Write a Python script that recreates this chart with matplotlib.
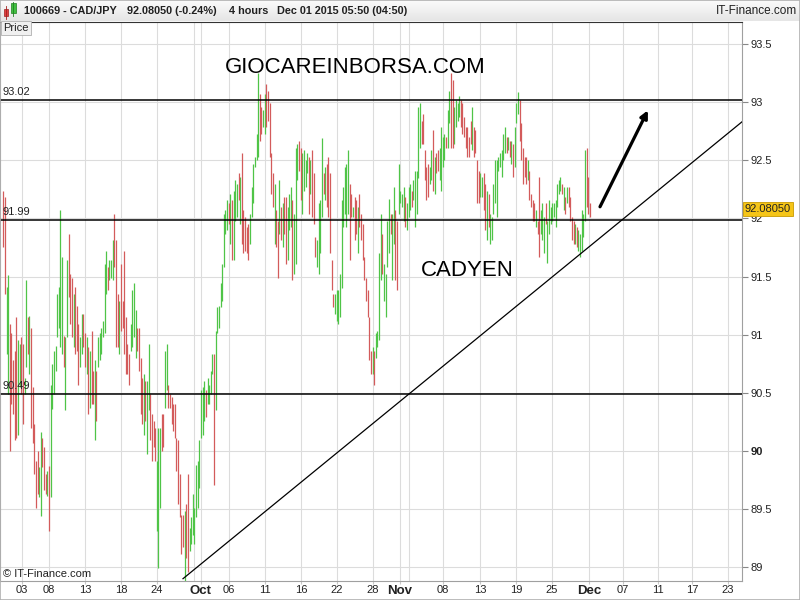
import numpy as np
import matplotlib
matplotlib.use("Agg")
from matplotlib import pyplot as plt
from matplotlib.patches import Rectangle

plt.rcParams['font.family'] = ['Liberation Sans', 'DejaVu Sans']

# 4 hour bars, CAD/JPY, early Sep -> Dec 01 2015
high = [92.24, 92.18, 91.41, 91.51, 91.09, 91.01, 90.78, 90.86, 91.15, 90.95,
        90.92, 90.98, 90.92, 90.63, 91.47, 91.15, 91.16, 91.06, 90.55, 90.23,
        89.91, 90.00, 89.86, 90.16, 90.11, 90.03, 89.80, 89.83, 89.87, 90.57,
        90.75, 90.86, 90.90, 91.35, 91.41, 92.07, 91.67, 90.99, 90.98, 91.64,
        91.87, 91.52, 91.49, 91.35, 91.41, 91.25, 91.09, 90.98, 91.18, 91.18,
        91.01, 90.98, 90.89, 90.86, 91.03, 90.69, 90.78, 90.69, 90.98, 91.01,
        91.06, 91.12, 91.61, 91.72, 91.58, 91.64, 91.64, 91.81, 92.04, 91.81,
        91.35, 91.29, 91.61, 91.29, 91.72, 91.15, 90.92, 90.83, 91.09, 91.38,
        91.44, 91.21, 91.06, 91.06, 90.80, 90.63, 90.66, 90.60, 90.60,
        90.92, 90.49, 90.32, 90.26, 90.20, 89.91, 90.20, 90.20, 90.32, 90.32,
        90.86, 90.92, 90.57, 90.49, 90.46, 90.40, 90.40, 90.11, 90.09, 89.80,
        89.45, 89.45, 89.48, 89.54, 89.80, 89.34, 89.43, 89.63, 89.51, 89.88,
        89.91, 90.09, 90.52, 90.55, 90.60, 90.52, 90.63, 90.57, 90.69, 90.83,
        90.83, 91.03, 91.24, 91.25, 91.44, 91.61, 92.04, 92.07, 92.16, 92.13,
        92.21, 92.16, 92.24, 92.33, 92.30, 92.39, 92.36, 92.56, 92.07, 92.01,
        91.93, 91.95, 92.04, 92.27, 92.47, 92.53, 92.73, 93.25, 93.07, 92.96,
        92.93, 93.07, 93.16, 93.10, 92.99, 92.56, 92.39, 92.30, 92.07, 91.98,
        92.33, 92.10, 92.13, 92.18, 92.18, 92.10, 92.21, 92.27, 92.16, 92.04,
        92.61, 92.64,
        92.67, 92.61, 92.56, 92.59, 92.50, 92.56, 92.53, 92.50, 92.59, 92.39,
        91.84, 91.81, 92.13, 92.16, 92.69, 92.39, 92.44, 92.47, 92.53, 92.39,
        91.64, 91.35, 91.35, 91.38, 91.38, 91.52, 92.16, 92.27, 92.44, 92.47,
        92.59, 92.30, 92.21, 92.10, 92.18, 92.16, 92.10, 92.21, 92.04, 91.95,
        91.67, 91.49, 91.38, 91.15, 90.86, 90.89, 90.86, 91.01, 91.03, 91.70,
        92.04, 91.87, 91.61, 91.52, 91.98, 92.17, 92.04, 92.04, 92.27, 92.07,
        91.98, 92.47, 92.24, 92.21, 92.27, 92.18, 92.13, 92.27, 92.30, 92.24,
        92.33, 92.41, 92.41, 92.96, 92.99, 92.84, 92.90, 92.59, 92.44, 92.47,
        92.44, 92.59, 92.76, 92.53, 92.56, 92.59, 92.61, 92.79, 92.70, 92.73,
        92.70, 92.93, 93.10, 93.25,
        93.19, 92.96, 93.02, 92.99, 93.05, 93.02, 92.99, 92.87, 92.79, 92.79,
        92.70, 92.84, 92.96, 92.79, 92.76, 92.50, 92.41, 92.39, 92.36, 92.39,
        92.30, 92.24, 92.21, 92.04, 92.01, 92.30, 92.50, 92.50, 92.53, 92.56,
        92.59, 92.73, 92.79, 92.70, 92.70, 92.67, 92.67, 92.64, 92.79, 92.99,
        93.09, 93.02, 92.82, 92.61, 92.53, 92.53, 92.50, 92.41, 92.21, 92.16,
        92.13, 92.07, 91.98, 92.36, 92.07, 92.13, 92.01, 92.13, 91.98, 92.16,
        92.10, 92.13, 92.13, 92.16, 92.30, 92.33, 92.36, 92.30, 92.27, 92.18,
        92.27, 92.27, 92.18, 92.01, 91.98, 91.95, 91.93, 91.90, 91.87, 92.07,
        92.04, 92.59, 92.61, 92.36, 92.13]

low = [91.75, 91.35, 90.83, 90.49, 90.00, 90.40, 90.32, 90.09, 90.11, 90.14,
       90.55, 90.49, 90.23, 90.49, 90.72, 90.83, 90.66, 90.20, 90.07, 89.80,
       89.51, 89.63, 89.60, 89.44, 89.86, 89.66, 89.63, 89.61, 89.31, 89.60,
       90.36, 90.49, 90.69, 90.98, 91.06, 90.89, 90.83, 90.72, 90.35, 90.98,
       91.32, 91.09, 90.98, 90.89, 90.83, 90.86, 90.57, 90.72, 90.83, 90.89,
       90.72, 90.66, 90.32, 90.37, 90.40, 90.40, 90.09, 90.26, 90.72, 90.78,
       90.83, 90.98, 91.01, 91.35, 91.38, 91.47, 91.49, 91.47, 91.58, 90.89,
       90.89, 90.83, 91.03, 91.06, 90.83, 90.66, 90.66, 90.57, 90.86, 90.89,
       90.98, 90.80, 90.86, 90.69, 90.32, 90.23, 90.14, 90.26, 89.97,
       90.35, 90.09, 89.91, 90.03, 89.91, 89.31, 88.99, 89.51, 90.00, 90.03,
       90.37, 90.52, 90.37, 90.37, 90.23, 90.17, 90.11, 89.83, 89.54, 89.43,
       89.11, 89.17, 88.88, 89.08, 88.96, 89.14, 89.20, 89.28, 89.20, 89.43,
       89.51, 89.68, 90.11, 90.14, 90.26, 90.29, 90.40, 90.40, 90.49, 90.66,
       89.71, 90.35, 91.01, 91.06, 91.24, 91.29, 91.58, 91.87, 91.90, 91.95,
       91.78, 91.64, 91.64, 91.98, 92.01, 92.16, 91.95, 91.78, 91.70, 91.72,
       91.70, 91.64, 91.78, 92.01, 92.13, 92.44, 92.50, 92.53, 92.67, 92.73,
       92.79, 92.73, 92.79, 92.84, 92.53, 92.21, 92.10, 91.78, 91.75, 91.49,
       91.87, 91.81, 91.75, 91.87, 91.61, 91.64, 91.90, 91.93, 91.47, 91.52,
       91.61, 92.33,
       92.41, 92.16, 92.04, 92.24, 92.27, 92.39, 92.04, 92.21, 92.01, 91.95,
       91.67, 91.58, 91.52, 91.70, 92.01, 92.21, 92.16, 92.10, 92.01, 91.70,
       91.38, 91.24, 91.18, 91.12, 91.09, 91.15, 91.40, 91.93, 92.04, 91.93,
       92.04, 91.64, 92.01, 92.01, 91.81, 91.87, 91.70, 91.93, 91.81, 91.64,
       91.47, 91.29, 91.15, 90.78, 90.66, 90.66, 90.57, 90.80, 90.89, 90.95,
       91.47, 91.52, 91.29, 91.15, 91.58, 91.70, 91.87, 91.47, 91.78, 91.47,
       91.38, 92.04, 92.13, 92.10, 91.98, 91.93, 91.90, 92.01, 92.07, 92.10,
       92.16, 91.93, 92.04, 92.35, 92.61, 92.64, 92.64, 92.33, 92.16, 92.18,
       92.30, 92.33, 92.24, 92.21, 92.39, 92.41, 92.33, 92.24, 92.44, 92.50,
       92.61, 92.61, 92.82, 92.61,
       92.61, 92.64, 92.79, 92.84, 92.87, 92.79, 92.73, 92.70, 92.61, 92.53,
       92.53, 92.64, 92.59, 92.53, 92.56, 92.13, 92.13, 92.18, 92.18, 92.07,
       91.90, 91.81, 91.93, 91.78, 91.81, 92.04, 92.13, 92.01, 92.41, 92.44,
       92.36, 92.50, 92.56, 92.56, 92.59, 92.53, 92.47, 92.36, 92.44, 92.82,
       92.90, 92.67, 92.50, 92.30, 92.36, 92.30, 92.33, 92.16, 92.10, 91.98,
       91.98, 91.93, 91.87, 91.67, 91.87, 91.81, 91.70, 91.95, 91.62, 91.87,
       91.95, 91.98, 92.01, 91.93, 92.10, 92.21, 92.24, 92.21, 92.07, 92.04,
       92.13, 92.10, 91.98, 91.81, 91.78, 91.78, 91.75, 91.72, 91.67, 91.72,
       91.84, 91.98, 92.10, 92.04, 92.01]

# g = close above open, r = close below open
direction = ("rrggrrrrrg" "grrggrgrrr" "rrggrrrgrg" "gggggggrgg" "rrrgrrrggr"
             "rgrgrrgrgg" "ggggrgggrr" "rgrrrrrrgg" "ggrrrrgrg"
             "grrrrgggrr" "ggrrrrrrrr" "rrgrrggggg" "gggggrgggg" "rggggggggr"
             "grgggrgrrr" "rrggggggrr" "ggrrrrrgrr" "grgrrgggrg" "gg"
             "rrggggrgrr" "rggggrgrrr" "rrgggggggg" "grrgrrgrrr" "rrrrrgrggg"
             "grggggrggr" "rggggrgggr" "gggggrrrrr" "ggrgrrgggg" "rggr"
             "rggggrrrrr" "rrgrrrrggr" "rgrggggggg" "gggrgrgrgg" "grrrrrgrrr"
             "rgrrgggrgg" "gggggggrgr" "grrrrgrggg" "ggrrr")

last_price = 92.08050
levels = [93.02, 91.99, 90.49]
level_labels = ["93.02", "91.99", "90.49"]

# trend line and arrow (bar index, price)
trend_idx = [110.0, 452.0]
trend_price = [88.90, 92.83]
arrow_from = (365.2, 92.10)
arrow_to = (394.5, 92.93)

tick_pos = [11.4, 28.0, 50.0, 72.0, 94.1, 121.0, 138.1, 160.2, 182.2, 204.2,
            226.3, 242.8, 269.1, 291.7, 313.8, 335.8, 358.4, 379.2, 400.6,
            421.7, 443.4]
tick_lab = ["03", "08", "13", "18", "24", "Oct", "06", "11", "16", "22", "28",
            "Nov", "08", "13", "19", "25", "Dec", "07", "11", "17", "23"]
yticks = [89, 89.5, 90, 90.5, 91, 91.5, 92, 92.5, 93, 93.5]

green = '#4fc447'
red = '#d35b5b'

fig = plt.figure(figsize=(8, 6), dpi=100)
ax = fig.add_axes([0, 19 / 600, 742 / 800, 559 / 600])

x = np.arange(len(high))
hi = np.array(high)
lo = np.array(low)
up = np.array([c == 'g' for c in direction])
ax.vlines(x[up], lo[up], hi[up], color=green, lw=0.9, zorder=3)
ax.vlines(x[~up], lo[~up], hi[~up], color=red, lw=0.9, zorder=3)

ax.set_xlim(-2.0, 452.1)
ax.set_ylim(88.88, 93.69)

for lv, lb in zip(levels, level_labels):
    ax.axhline(lv, color='black', lw=1.1, zorder=4)
    ax.text(-0.3, lv + 0.025, lb, fontsize=8, color='#222222', va='bottom', ha='left', zorder=5)

ax.plot(trend_idx, trend_price, color='black', lw=0.9, zorder=4)
ax.annotate('', xy=arrow_to, xytext=arrow_from,
            arrowprops=dict(arrowstyle='-|>', color='black', lw=2.3, mutation_scale=11,
                            shrinkA=0, shrinkB=0), zorder=6)

ax.text(215.2, 93.30, "GIOCAREINBORSA.COM", fontsize=16, ha='center', va='center', zorder=6)
ax.text(283.8, 91.55, "CADYEN", fontsize=16, ha='center', va='center', zorder=6)

# grid
ax.set_xticks(tick_pos)
ax.set_xticklabels(tick_lab)
for t in ax.get_xticklabels():
    if t.get_text() in ("Oct", "Nov", "Dec"):
        t.set_fontweight('bold')
        t.set_fontsize(9.5)
    else:
        t.set_fontsize(8)
ax.tick_params(axis='x', length=2, color='#c8c8c8', pad=1, labelcolor='#222222')
for extra in [116.7, 248.3]:
    ax.axvline(extra, color='#dcdcdc', lw=0.8, zorder=0)

ax.yaxis.tick_right()
ax.set_yticks(yticks)
ax.set_yticklabels(["89", "89.5", "90", "90.5", "91", "91.5", "92", "92.5", "93", "93.5"])
ax.tick_params(axis='y', length=4, color='#888888', labelsize=8, labelcolor='#222222', pad=2)
for t in ax.get_yticklabels():
    if t.get_text() == "90":
        t.set_fontweight('bold')
ax.grid(True, color='#dcdcdc', lw=0.8, zorder=0)
ax.set_axisbelow(True)

for side in ['left', 'right', 'bottom']:
    ax.spines[side].set_color('#a0a0a0')
ax.spines['top'].set_color('#333333')

# last price marker on the axis
ax.text(1.004, last_price, "%.5f" % last_price, transform=ax.get_yaxis_transform(),
        fontsize=8, color='#222222', va='center', ha='left', zorder=10, clip_on=False,
        bbox=dict(boxstyle='square,pad=0.15', facecolor='#f5c518', edgecolor='#c89a00', lw=0.6))

ax.text(0.004, 0.004, "\u00a9 IT-Finance.com", transform=ax.transAxes, fontsize=8,
        color='#222222', va='bottom', ha='left', zorder=6)

# header band
hax = fig.add_axes([0, 1 - 21 / 600, 1, 21 / 600])
grad = np.linspace(0.98, 0.90, 20).reshape(-1, 1)
hax.imshow(grad, cmap='gray', vmin=0, vmax=1, aspect='auto', extent=[0, 800, 21, 0])
hax.set_xlim(0, 800)
hax.set_ylim(21, 0)
hax.axis('off')
hax.add_patch(Rectangle((3.5, 9), 4.5, 7, facecolor='#e04040', edgecolor='#a02020', lw=0.5))
hax.plot([5.75, 5.75], [6, 18.5], color='#a02020', lw=0.6)
hax.add_patch(Rectangle((11, 3), 4.5, 10, facecolor='#40c040', edgecolor='#208020', lw=0.5))
hax.plot([13.25, 13.25], [1.5, 15.5], color='#208020', lw=0.6)
hdr = [(24, "100669 - CAD/JPY"), (127, "92.08050 (-0.24%)"), (229, "4 hours"),
       (277, "Dec 01 2015 05:50 (04:50)")]
for hx, ht in hdr:
    hax.text(hx, 11, ht, fontsize=7.8, fontweight='bold', color='#202020', va='center', ha='left')
hax.text(797, 11, "IT-Finance.com", fontsize=8.5, color='#202020', va='center', ha='right')

fig.text(3 / 800, 1 - 28 / 600, "Price", fontsize=8, color='#222222', va='center', ha='left',
         bbox=dict(boxstyle='square,pad=0.2', facecolor='#f0f0f0', edgecolor='#b0b0b0', lw=0.6))

fig.patches.append(Rectangle((0, 0), 1, 1, transform=fig.transFigure, fill=False,
                             edgecolor='#b0b0b0', lw=1.2))

fig.savefig('out.png', dpi=100)
